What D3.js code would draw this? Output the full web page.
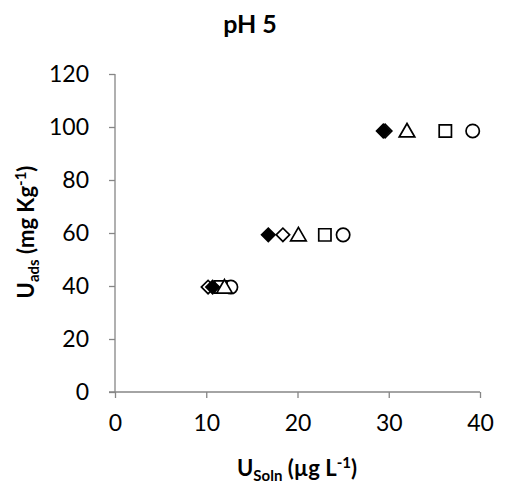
<!DOCTYPE html>
<html>
<head>
<meta charset="utf-8">
<script src="https://cdn.jsdelivr.net/npm/d3@7"></script>
<style>
  html, body { margin: 0; padding: 0; background: #fff; }
  svg { display: block; font-family: Lato, "Open Sans", sans-serif; }
</style>
</head>
<body>
<svg id="chart" width="506" height="488"></svg>
<script>
// Uranium sorption at pH 5: solution concentration vs. adsorbed amount
const seriesNames = ["circle", "square", "triangle", "diamondOpen", "diamondFilled"];
const uSoln = {
  circle:        [12.7, 25.0, 39.2],
  square:        [11.6, 23.0, 36.2],
  triangle:      [12.0, 20.1, 32.0],
  diamondOpen:   [10.2, 18.4, 29.6],
  diamondFilled: [10.7, 16.8, 29.4]
};
const uAds = [39.6, 59.3, 98.5];
const xTicks = [0, 10, 20, 30, 40];
const yTicks = [0, 20, 40, 60, 80, 100, 120];

const svg = d3.select("#chart");
const x = d3.scaleLinear().domain([0, 40]).range([115, 480]);
const y = d3.scaleLinear().domain([0, 120]).range([392, 74]);
const axisColor = "#868686";
const font = "Lato, 'Open Sans', sans-serif";

// axes
const gx = svg.append("g").attr("transform", `translate(0,${y(0)})`)
  .call(d3.axisBottom(x).tickValues(xTicks).tickSize(6).tickPadding(17).tickFormat(d3.format("d")));
const gy = svg.append("g").attr("transform", `translate(${x(0)},0)`)
  .call(d3.axisLeft(y).tickValues(yTicks).tickSize(6).tickPadding(20).tickFormat(d3.format("d")));
[gx, gy].forEach(g => {
  g.select(".domain").attr("stroke", axisColor).attr("stroke-width", 1.3);
  g.selectAll(".tick line").attr("stroke", axisColor).attr("stroke-width", 1.3);
  g.selectAll(".tick text").attr("fill", "#000").attr("font-size", 23).attr("font-family", font);
});
// the x axis line runs a little past the y axis on the left
gx.select(".domain").attr("d", `M${x(0) - 6},0H${x(40)}`);
gy.select(".domain").attr("d", `M0,${y(120)}V${y(0)}`);

// markers
const symbols = {
  circle:        { type: d3.symbolCircle,   size: 140, fill: "#fff", rot: 0 },
  square:        { type: d3.symbolSquare,   size: 150, fill: "#fff", rot: 0 },
  triangle:      { type: d3.symbolTriangle, size: 105, fill: "#fff", rot: 0 },
  diamondOpen:   { type: d3.symbolSquare,   size: 90,  fill: "#fff", rot: 45 },
  diamondFilled: { type: d3.symbolSquare,   size: 90,  fill: "#000", rot: 45 }
};
seriesNames.forEach(name => {
  const s = symbols[name];
  const gen = d3.symbol().type(s.type).size(s.size);
  svg.append("g").selectAll("path")
    .data(uSoln[name].map((v, i) => ({ x: v, y: uAds[i] })))
    .join("path")
    .attr("d", gen)
    .attr("transform", d => `translate(${x(d.x)},${y(d.y) + (name === "triangle" ? 1.5 : 0)}) rotate(${s.rot})`)
    .attr("fill", s.fill)
    .attr("stroke", "#000")
    .attr("stroke-width", 1.7);
});

// title
svg.append("text").attr("x", 250).attr("y", 33).attr("text-anchor", "middle")
  .attr("font-size", 25).attr("font-weight", "bold").text("pH 5");

// x axis title
const xt = svg.append("text").attr("x", 297).attr("y", 476).attr("text-anchor", "middle")
  .attr("font-size", 22).attr("font-weight", "bold");
xt.append("tspan").text("U");
xt.append("tspan").attr("font-size", 15).attr("dy", 5).text("Soln");
xt.append("tspan").attr("dy", -5).text(" (µg L");
xt.append("tspan").attr("font-size", 15).attr("dy", -8).text("-1");
xt.append("tspan").attr("dy", 8).text(")");

// y axis title
const yt = svg.append("text").attr("transform", `translate(34,${232}) rotate(-90)`)
  .attr("text-anchor", "middle").attr("font-size", 22).attr("font-weight", "bold");
yt.append("tspan").text("U");
yt.append("tspan").attr("font-size", 15).attr("dy", 5).text("ads");
yt.append("tspan").attr("dy", -5).text(" (mg Kg");
yt.append("tspan").attr("font-size", 15).attr("dy", -8).text("-1");
yt.append("tspan").attr("dy", 8).text(")");
</script>
</body>
</html>
